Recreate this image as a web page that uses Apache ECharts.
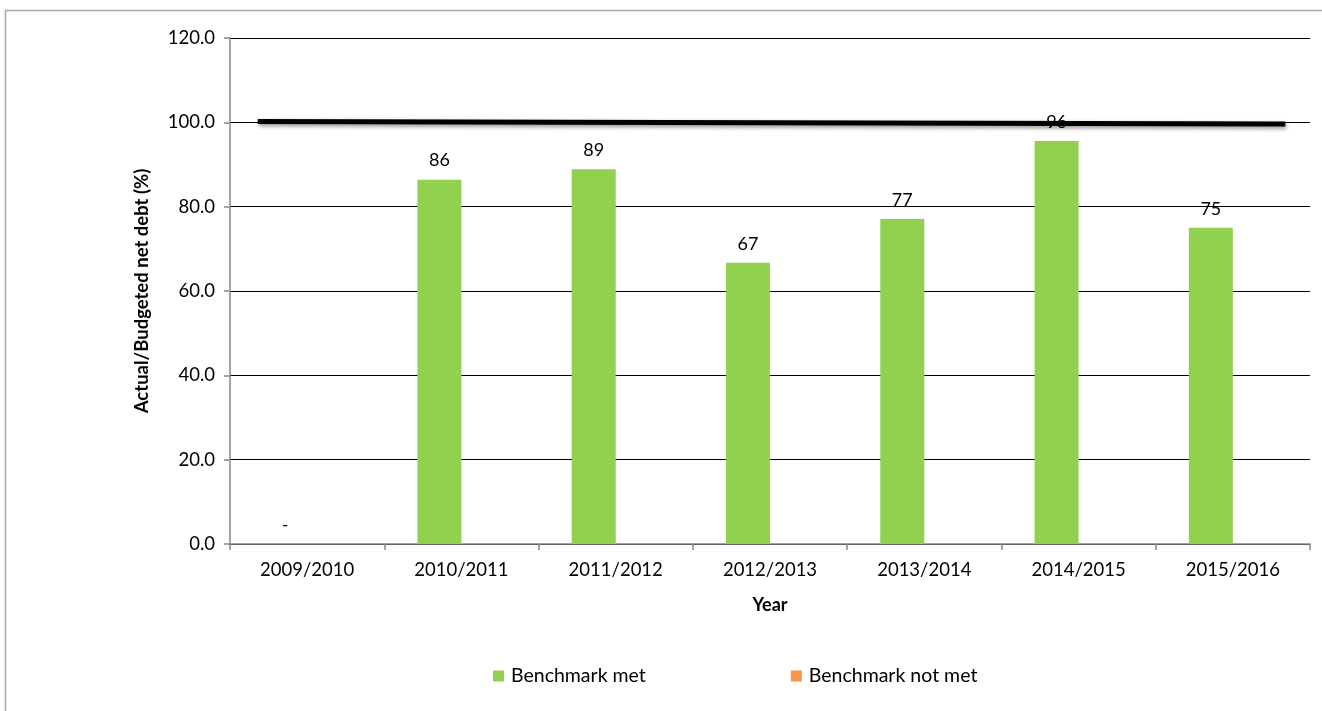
<!DOCTYPE html>
<html>
<head>
<meta charset="utf-8">
<script src="https://cdn.jsdelivr.net/npm/echarts@6/dist/echarts.min.js"></script>
<style>
  html, body { margin: 0; padding: 0; background: #fff; }
  #chart { width: 1322px; height: 711px; }
</style>
</head>
<body>
<div id="chart"></div>
<script>
// Ratio of actual to budgeted net debt, by financial year
const years = ['2009/2010', '2010/2011', '2011/2012', '2012/2013', '2013/2014', '2014/2015', '2015/2016'];
const benchmarkMet = [0, 86.4, 88.9, 66.7, 77.1, 95.6, 75.0];
const benchmarkNotMet = [null, null, null, null, null, null, null];
// Benchmark line (100%) endpoints, in category-band units along the x axis
const benchmarkX = [0.18, 6.84];
const benchmarkY = [100.2, 99.6];
const yTicks = { min: 0, max: 120, interval: 20 };

const FONT = 'Lato, "Open Sans", sans-serif';
const chart = echarts.init(document.getElementById('chart'));

chart.setOption({
  animation: false,
  textStyle: { fontFamily: FONT },
  graphic: [{
    type: 'rect',
    shape: { x: 5.5, y: 10.5, width: 1400, height: 800 },
    style: { fill: 'none', stroke: '#a6a6a6', lineWidth: 1.5 },
    silent: true, z: -10
  }],
  grid: { left: 230, top: 38, right: 12, bottom: 167 },
  legend: {
    top: 661,
    left: 488,
    itemGap: 145,
    itemWidth: 11,
    itemHeight: 11,
    icon: 'rect',
    textStyle: { fontSize: 19.5, color: '#000', fontFamily: FONT, padding: [0, 0, 0, 2] },
    data: ['Benchmark met', 'Benchmark not met']
  },
  xAxis: [{
    type: 'category',
    data: years,
    name: 'Year',
    nameLocation: 'middle',
    nameGap: 52,
    nameTextStyle: { fontSize: 18, fontWeight: 'bold', color: '#000' },
    axisLine: { lineStyle: { color: '#868686', width: 1.5 } },
    axisTick: { show: true, length: 6, lineStyle: { color: '#868686', width: 1.5 } },
    axisLabel: { fontSize: 18.5, color: '#000', margin: 17 },
    splitLine: { show: false }
  }, {
    type: 'value',
    min: 0,
    max: years.length,
    show: false
  }],
  yAxis: {
    type: 'value',
    min: yTicks.min,
    max: yTicks.max,
    interval: yTicks.interval,
    name: 'Actual/Budgeted net debt (%)',
    nameLocation: 'middle',
    nameGap: 78,
    nameTextStyle: { fontSize: 18.5, fontWeight: 'bold', color: '#000' },
    axisLine: { show: true, lineStyle: { color: '#868686', width: 1.5 } },
    axisTick: { show: true, length: 6, lineStyle: { color: '#868686', width: 1.5 } },
    axisLabel: { fontSize: 18.5, color: '#000', margin: 15, formatter: v => v.toFixed(1) },
    splitLine: { lineStyle: { color: '#000', width: 1 } }
  },
  series: [{
    name: 'Benchmark met',
    type: 'bar',
    data: benchmarkMet,
    barWidth: 44,
    barGap: '0%',
    itemStyle: { color: '#92d050' },
    label: {
      show: true,
      position: 'top',
      distance: 10,
      fontSize: 18,
      color: '#000',
      formatter: p => (p.value === 0 ? '-' : Math.round(p.value).toString())
    },
    z: 2
  }, {
    name: 'Benchmark not met',
    type: 'bar',
    data: benchmarkNotMet,
    barWidth: 44,
    barGap: '0%',
    itemStyle: { color: '#f79646' },
    z: 2
  }, {
    name: 'Benchmark',
    type: 'line',
    xAxisIndex: 1,
    data: [[benchmarkX[0], benchmarkY[0]], [benchmarkX[1], benchmarkY[1]]],
    symbol: 'none',
    lineStyle: {
      color: '#000',
      width: 5,
      shadowColor: 'rgba(0,0,0,0.45)',
      shadowBlur: 4,
      shadowOffsetY: 2,
      shadowOffsetX: 1
    },
    z: 10,
    zlevel: 1
  }]
});
</script>
</body>
</html>
